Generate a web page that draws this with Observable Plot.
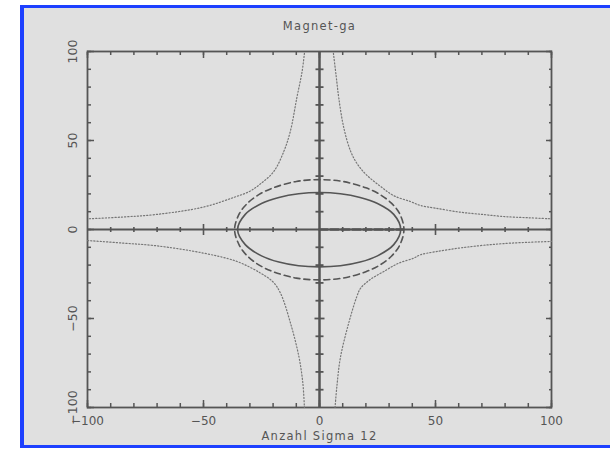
<!DOCTYPE html>
<html><head><meta charset="utf-8">
<script src="https://cdn.jsdelivr.net/npm/d3@7"></script>
<script src="https://cdn.jsdelivr.net/npm/@observablehq/plot@0.6"></script>
<style>
html,body{margin:0;padding:0;background:#fff;overflow:hidden;width:610px;height:449px;}
#wrap{position:relative;width:610px;height:449px;overflow:hidden;}
#panel{position:absolute;left:20px;top:5px;width:700px;height:437px;background:#e0e0e0;border-left:4px solid #1d40ff;border-top:3px solid #1d40ff;border-bottom:3px solid #1d40ff;border-right:none;}
#chart{position:absolute;left:0;top:0;}
</style></head><body><div id="wrap"><div id="panel"></div><div id="chart"></div></div>
<script>
const title = "Magnet-ga";
const xLabel = "Anzahl Sigma 12";
const majorTicks = [-100, -50, 0, 50, 100];
const minorTicks = [-100, -90, -80, -70, -60, -50, -40, -30, -20, -10, 0, 10, 20, 30, 40, 50, 60, 70, 80, 90, 100];
const centerMinor = [-90, -80, -70, -60, -40, -30, -20, -10, 10, 20, 30, 40, 60, 70, 80, 90];
const centerMajor = [-50, 50];

// dotted branches (x, y)
const hypUR = [[6,99],[7.2,86],[8.3,74],[10.5,57],[13.4,44],[16.2,37],[20,31],[26.3,24.2],[32,19],[39.2,15.7],[43.5,13.5],[50,12],[60.8,9.7],[70,8.5],[79.3,7.3],[90,6.6],[100,6]];
const hypUL = [[-6.5,99],[-7.5,88.8],[-9.8,73.8],[-12.6,55],[-15.4,43.8],[-19.7,32.6],[-25.4,25.7],[-30,21.5],[-37,18],[-50,12.6],[-70,8.5],[-85,7],[-100,6]];
const hypLL = [[-100,-6.2],[-85,-7.6],[-70,-9.2],[-49.9,-13.3],[-35.5,-18],[-25.4,-24.5],[-20,-29.5],[-16.8,-35.8],[-12.5,-52.6],[-8.9,-71.3],[-7.2,-86],[-6.5,-100]];
const hypLR = [[6.7,-100],[7.5,-88],[9,-72],[12.5,-53],[16,-38],[17.7,-33],[22,-28],[27.7,-23.6],[34,-19],[40.6,-16.1],[43.5,-14.2],[50,-12.5],[62.2,-10.1],[79.4,-7.9],[100,-6.7]];

// solid ellipse
const ellSolid = [[35,0],[32,8.5],[25,14.6],[17.5,18],[9,20.1],[0,20.8],[-9,20.1],[-17.5,18],[-25,14.6],[-32,8.5],[-35.3,0],[-32,-8.5],[-25,-14.8],[-17.5,-18.3],[-9,-20.4],[0,-21],[9,-20.4],[17.5,-18.3],[25,-14.8],[32,-8.5]];
// dashed ellipse
const ellDashed = [[36.4,0],[34.5,9],[31,14.8],[26,19.7],[20,23.4],[10,27],[0,28],[-10,27],[-20,23.4],[-26,19.7],[-31,14.8],[-34.5,9],[-36.6,0],[-34.5,-9],[-31,-15],[-26,-20],[-20,-23.7],[-10,-27.3],[0,-28.3],[10,-27.3],[20,-23.7],[26,-20],[31,-15],[34.5,-9]];
// dashed segment on positive x axis
const axisDash = [[0,0],[36,0]];

const ink = "#555";
const dotInk = "#767676";
const px = d => d[0], py = d => d[1];
const vBar = h => ({draw(ctx){ctx.moveTo(0,-h);ctx.lineTo(0,h);}});
const hBar = w => ({draw(ctx){ctx.moveTo(-w,0);ctx.lineTo(w,0);}});
const fmt = d => d < 0 ? "\u2212" + Math.abs(d) : String(d);
const blank = () => "";

const chart = Plot.plot({
  width: 610, height: 449,
  marginLeft: 87, marginRight: 59, marginTop: 51, marginBottom: 42,
  style: {background: "transparent", fontFamily: "DejaVu Sans", color: ink},
  x: {domain: [-100, 100]},
  y: {domain: [-100, 100]},
  marks: [
    // frame ticks (inward)
    Plot.axisX(minorTicks, {anchor: "bottom", tickSize: -4, tickFormat: blank, label: null, stroke: ink, strokeWidth: 1.5}),
    Plot.axisX(majorTicks, {anchor: "bottom", tickSize: -7, tickFormat: blank, label: null, stroke: ink, strokeWidth: 1.5}),
    Plot.axisX(minorTicks, {anchor: "top", tickSize: -3, tickFormat: blank, label: null, stroke: ink, strokeWidth: 1.5}),
    Plot.axisX(majorTicks, {anchor: "top", tickSize: -6, tickFormat: blank, label: null, stroke: ink, strokeWidth: 1.5}),
    Plot.axisY(minorTicks, {anchor: "left", tickSize: -4, tickFormat: blank, label: null, stroke: ink, strokeWidth: 1.5}),
    Plot.axisY(majorTicks, {anchor: "left", tickSize: -7, tickFormat: blank, label: null, stroke: ink, strokeWidth: 1.5}),
    Plot.axisY(minorTicks, {anchor: "right", tickSize: -3, tickFormat: blank, label: null, stroke: ink, strokeWidth: 1.5}),
    Plot.axisY(majorTicks, {anchor: "right", tickSize: -6, tickFormat: blank, label: null, stroke: ink, strokeWidth: 1.5}),
    // tick labels
    Plot.axisX(majorTicks, {anchor: "bottom", tickSize: 0, tickPadding: 9, tickFormat: fmt, label: null, fontSize: 12, fill: ink}),
    Plot.axisY(majorTicks, {anchor: "left", tickSize: 0, tickPadding: 11, tickRotate: -90, tickFormat: fmt, label: null, fontSize: 12.5, fill: ink}),
    Plot.frame({stroke: ink, strokeWidth: 1.8}),
    // center axes
    Plot.ruleY([0], {stroke: ink, strokeWidth: 2}),
    Plot.ruleX([0], {stroke: ink, strokeWidth: 2.5}),
    Plot.dot(centerMinor.map(v => ({x: v, y: 0})), {x: "x", y: "y", symbol: vBar(2.5), stroke: ink, fill: "none", strokeWidth: 1.6}),
    Plot.dot(centerMajor.map(v => ({x: v, y: 0})), {x: "x", y: "y", symbol: vBar(5.5), stroke: ink, fill: "none", strokeWidth: 1.6}),
    Plot.dot(centerMinor.map(v => ({x: 0, y: v})), {x: "x", y: "y", symbol: hBar(4), stroke: ink, fill: "none", strokeWidth: 1.8}),
    Plot.dot(centerMajor.map(v => ({x: 0, y: v})), {x: "x", y: "y", symbol: hBar(5), stroke: ink, fill: "none", strokeWidth: 1.8}),
    // curves
    Plot.line(hypUR, {x: px, y: py, curve: "catmull-rom", stroke: dotInk, strokeWidth: 1.2, strokeDasharray: "1.2,2"}),
    Plot.line(hypUL, {x: px, y: py, curve: "catmull-rom", stroke: dotInk, strokeWidth: 1.2, strokeDasharray: "1.2,2"}),
    Plot.line(hypLL, {x: px, y: py, curve: "catmull-rom", stroke: dotInk, strokeWidth: 1.2, strokeDasharray: "1.2,2"}),
    Plot.line(hypLR, {x: px, y: py, curve: "catmull-rom", stroke: dotInk, strokeWidth: 1.2, strokeDasharray: "1.2,2"}),
    Plot.line(ellSolid, {x: px, y: py, curve: "catmull-rom-closed", stroke: ink, strokeWidth: 1.6}),
    Plot.line(ellDashed, {x: px, y: py, curve: "catmull-rom-closed", stroke: ink, strokeWidth: 1.6, strokeDasharray: "6,4"}),
    Plot.line(axisDash, {x: px, y: py, stroke: ink, strokeWidth: 2.6, strokeDasharray: "8,3"}),
    // title & axis label
    Plot.text([title], {frameAnchor: "top", dy: -30, fontSize: 11.5, fill: ink}),
    Plot.text([xLabel], {frameAnchor: "bottom", dy: 32, fontSize: 11.5, fill: ink})
  ]
});
d3.select(chart).selectAll("g[aria-label='text'] text").attr("letter-spacing", "1.3px");
document.getElementById("chart").appendChild(chart);
</script>
</body></html>
